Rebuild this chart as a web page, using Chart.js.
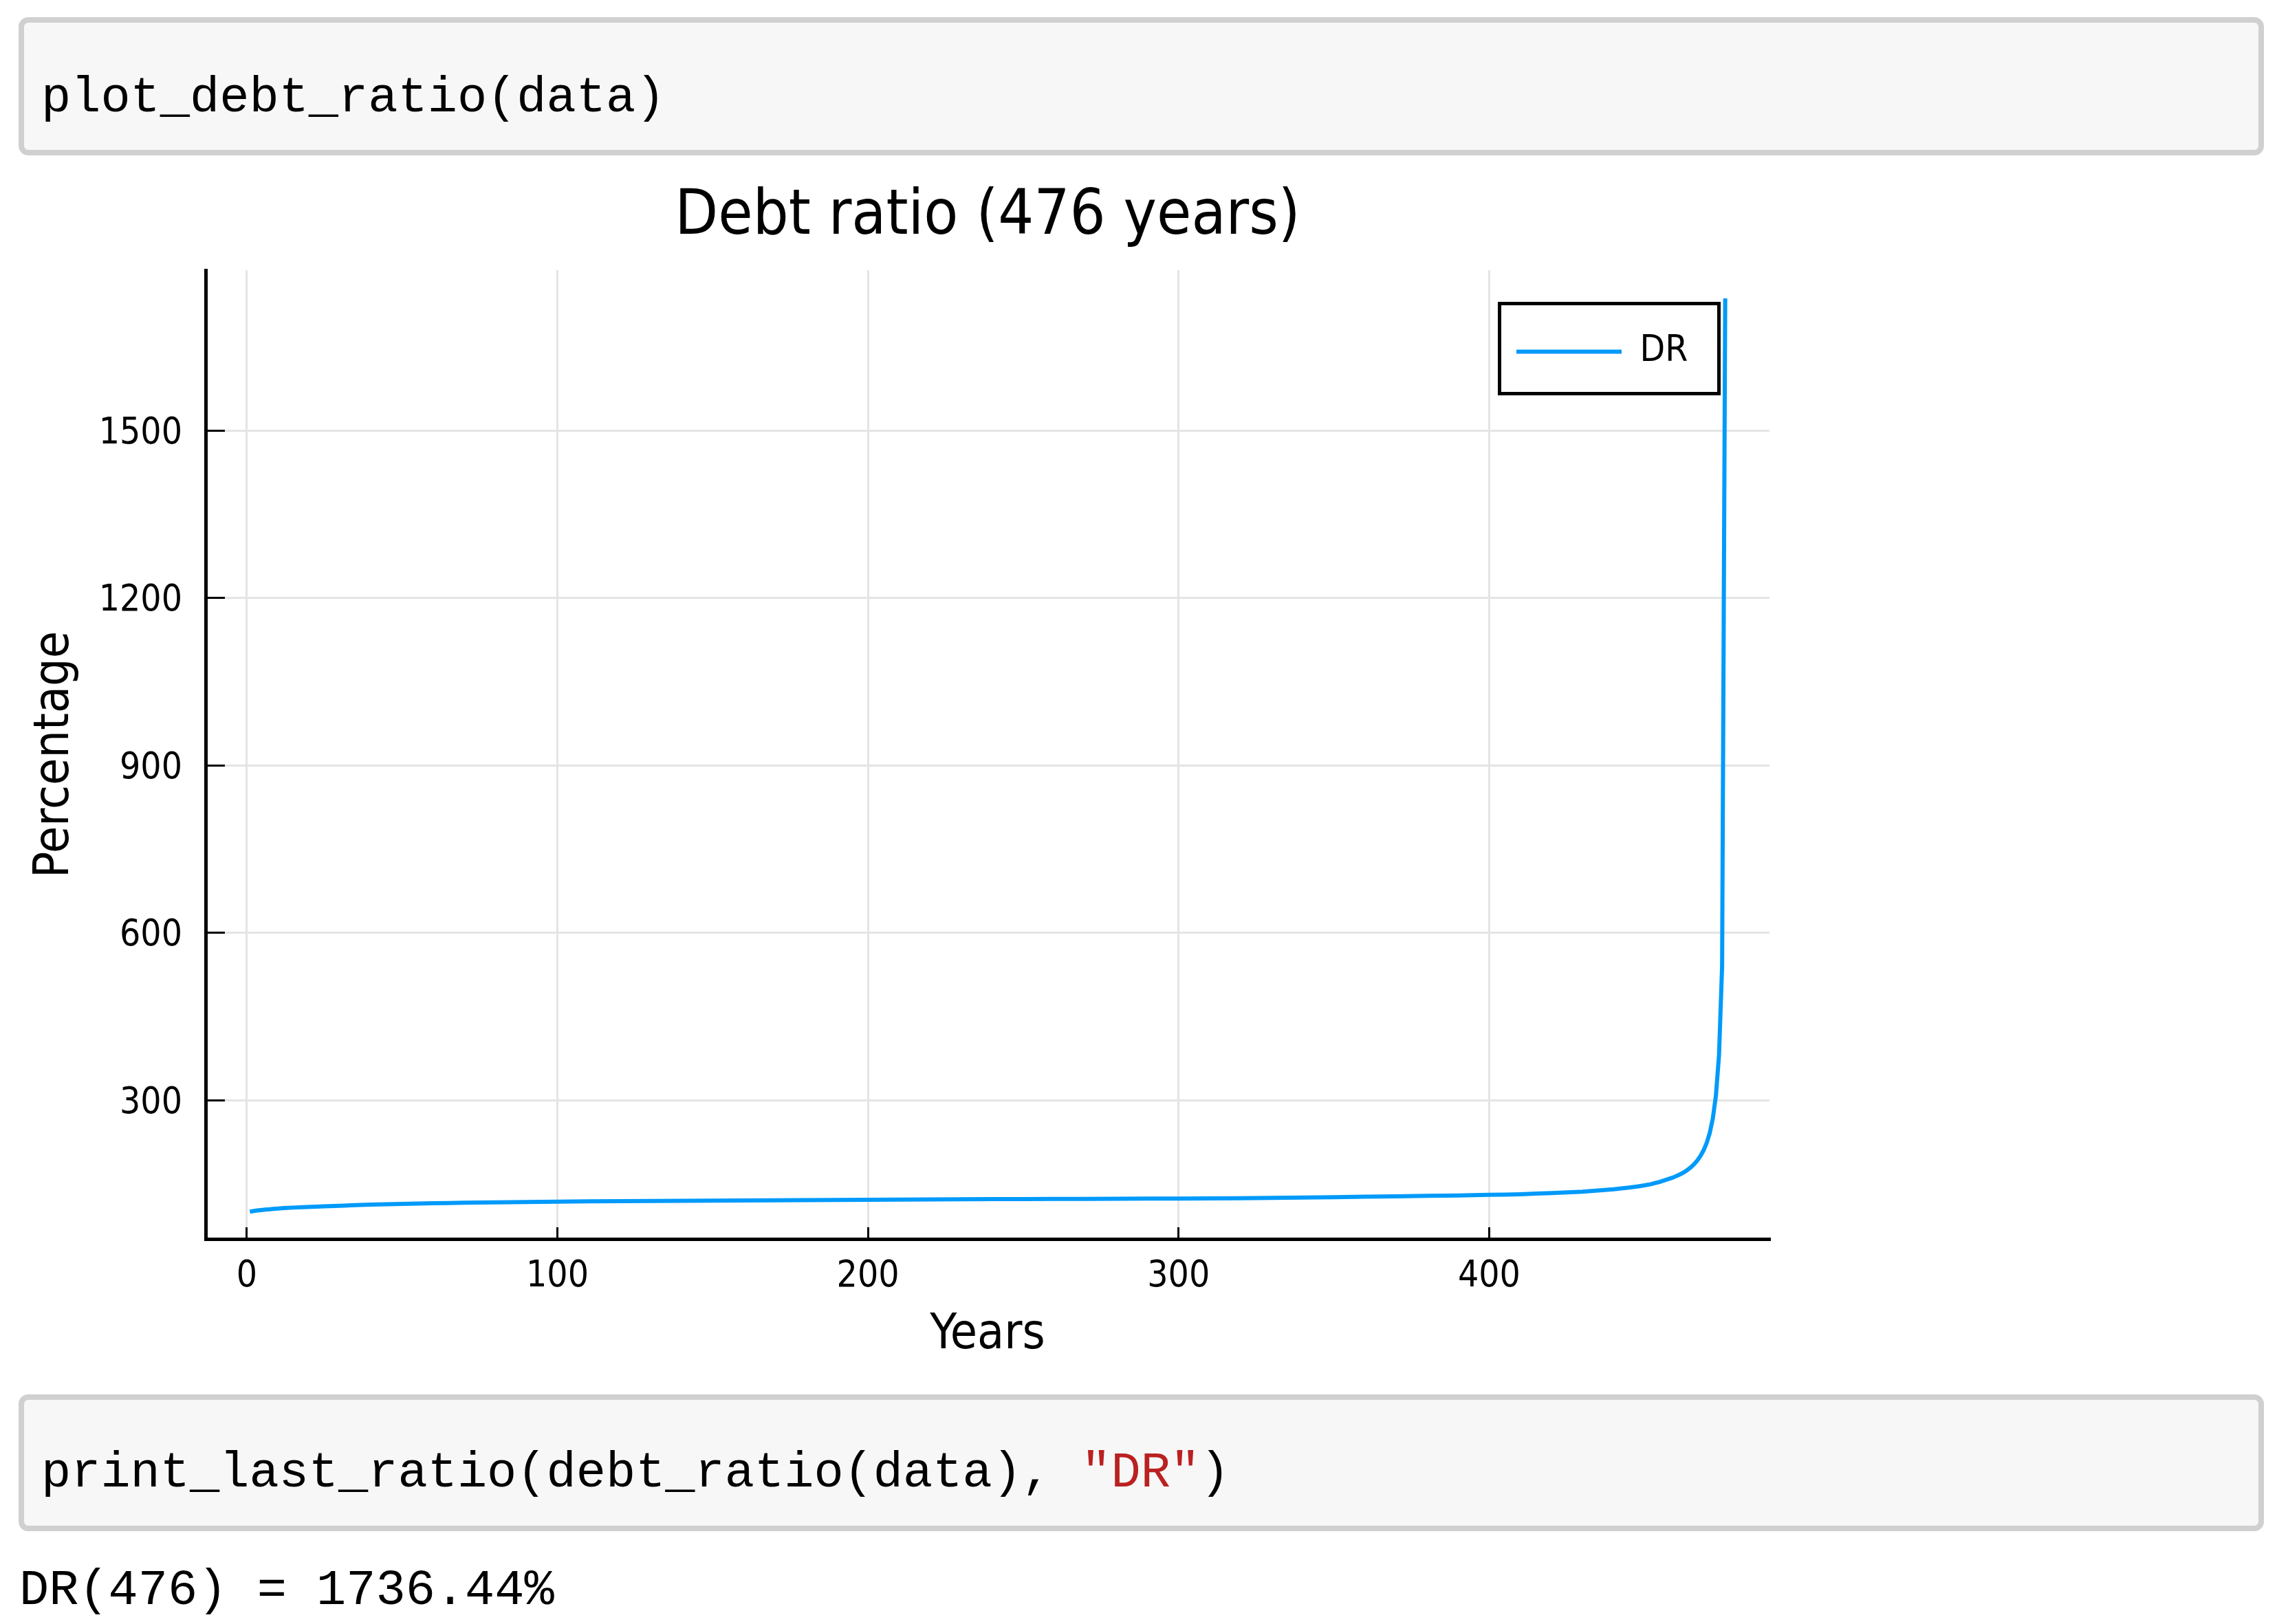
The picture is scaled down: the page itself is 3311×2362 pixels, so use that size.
<!DOCTYPE html>
<html>
<head>
<meta charset="utf-8">
<script src="https://cdn.jsdelivr.net/npm/chart.js@4.4.1/dist/chart.umd.min.js"></script>
<style>
  html, body { margin:0; padding:0; background:#ffffff; }
  body { width:3311px; height:2362px; position:relative; overflow:hidden; }
  .code { position:absolute; left:27px; width:3265px; box-sizing:border-box;
          border:8px solid #d0d0d0; border-radius:14px; background:#f7f7f7; }
  .mono { position:absolute; font-family:'Liberation Mono', 'DejaVu Sans Mono', monospace;
          font-size:72px; line-height:72px; white-space:pre; color:#000; }
  .str { color:#ba2121; }
  #chartBox { position:absolute; left:0; top:240px; width:2700px; height:1770px; }
</style>
</head>
<body>
<div class="code" style="top:25px;height:201px;"></div>
<div class="mono" style="left:60px;top:107px;">plot_debt_ratio(data)</div>

<div id="chartBox"><canvas id="c"></canvas></div>

<div class="code" style="top:2028px;height:199px;"></div>
<div class="mono" style="left:60px;top:2107px;">print_last_ratio(debt_ratio(data), <span class="str">"DR"</span>)</div>
<div class="mono" style="left:28px;top:2278px;">DR(476) = 1736.44%</div>

<script>
// ---- data ----
const years = [1,2,3,4,5,6,7,8,9,10,12,15,18,21,25,30,35,40,45,50,55,60,65,70,75,80,85,90,95,100,
  110,120,130,140,150,160,170,180,190,200,210,220,230,240,250,260,270,280,290,300,310,320,330,340,350,360,370,380,390,400,
  405,410,415,420,425,430,435,440,445,448,450,452,
  453,454,455,456,457,458,459,460,461,462,463,464,465,466,467,468,469,470,471,472,473,474,475,476];
const debtRatio = [100.5,101.4,102.2,102.9,103.5,104.1,104.6,105.1,105.6,106.0,106.8,107.7,108.4,109.1,110.0,
  111.0,112.1,113.0,113.7,114.4,115.0,115.5,116.0,116.4,116.8,117.1,117.4,117.7,118.0,118.3,
  118.8,119.2,119.5,119.8,120.1,120.4,120.7,121.0,121.3,121.6,121.9,122.2,122.5,122.8,123.0,123.2,123.4,123.6,123.8,124.0,
  124.3,124.6,125.0,125.7,126.4,127.1,127.9,128.7,129.5,130.5,
  131.0,131.7,132.7,133.7,134.9,136.2,138.2,140.5,143.5,145.8,147.5,149.5,
  151.0,152.5,154.0,155.8,157.6,159.4,161.2,163.5,166.0,168.8,172.0,175.8,180.3,185.5,192.0,200.0,210.0,223.0,
  241.0,267.0,308.0,380.0,540.0,1736.44];
const seriesLabel = 'DR';
const chartTitle = 'Debt ratio (476 years)';
const xAxisTitle = 'Years';
const yAxisTitle = 'Percentage';
const xTickValues = [0, 100, 200, 300, 400];
const yTickValues = [300, 600, 900, 1200, 1500];
const xRange = [-13.25, 490.25];
const yRange = [51.5, 1787];

// ---- chart ----
const FONT = "'DejaVu Sans Condensed', 'DejaVu Sans', sans-serif";
Chart.defaults.color = '#000';
Chart.defaults.font.family = FONT;

const points = years.map((y, i) => ({x: y, y: debtRatio[i]}));

const legendPlacer = {
  id: 'legendPlacer',
  beforeDraw(chart) {
    const lg = chart.legend;
    if (!lg) return;
    const left = 2185, top = 225;
    lg.left = left; lg.top = top; lg.width = 420; lg.height = 200;
    lg.right = left + 420; lg.bottom = top + 200;
  },
  afterDraw(chart) {
    const ctx = chart.ctx;
    ctx.save();
    ctx.strokeStyle = '#000';
    ctx.lineWidth = 5;
    ctx.strokeRect(2180.5, 201.5, 319, 131);
    ctx.restore();
  }
};

new Chart(document.getElementById('c'), {
  type: 'line',
  data: {
    datasets: [{
      label: seriesLabel,
      data: points,
      borderColor: '#009afa',
      backgroundColor: '#009afa',
      borderWidth: 6,
      pointRadius: 0,
      tension: 0,
      fill: false
    }]
  },
  options: {
    responsive: true,
    maintainAspectRatio: false,
    devicePixelRatio: 1,
    animation: false,
    events: [],
    layout: { padding: { left: 0, right: 127, top: 21.4, bottom: 0 } },
    plugins: {
      title: {
        display: true,
        text: chartTitle,
        fullSize: false,
        color: '#000',
        font: { family: FONT, size: 91, weight: 'normal', lineHeight: 1.2 },
        padding: { top: 0, bottom: 22.4 }
      },
      legend: {
        display: true,
        position: 'chartArea',
        align: 'start',
        labels: {
          usePointStyle: true,
          pointStyle: 'line',
          pointStyleWidth: 153,
          boxHeight: 53,
          padding: 20,
          color: '#000',
          font: { family: FONT, size: 53 }
        }
      },
      tooltip: { enabled: false }
    },
    scales: {
      x: {
        type: 'linear',
        position: 'bottom',
        min: xRange[0],
        max: xRange[1],
        afterFit: s => { s.height = 208; },
        afterBuildTicks: s => { s.ticks = xTickValues.map(v => ({value: v})); },
        ticks: { padding: 40, font: { family: FONT, size: 53 }, color: '#000',
                 maxRotation: 0, autoSkip: false, callback: v => String(v) },
        grid: { color: '#e4e4e4', lineWidth: 3, tickColor: '#000', tickWidth: 3, tickLength: -17, drawTicks: true },
        border: { display: true, color: '#000', width: 5 },
        title: { display: true, text: xAxisTitle, color: '#000',
                 font: { family: FONT, size: 71, lineHeight: 1.2 }, padding: { top: 0, bottom: 25 } }
      },
      y: {
        type: 'linear',
        position: 'left',
        min: yRange[0],
        max: yRange[1],
        afterFit: s => { s.width = 299; },
        afterBuildTicks: s => { s.ticks = yTickValues.map(v => ({value: v})); },
        ticks: { padding: 62, labelOffset: 5, font: { family: FONT, size: 53 }, color: '#000',
                 autoSkip: false, callback: v => String(v) },
        grid: { color: '#e4e4e4', lineWidth: 3, tickColor: '#000', tickWidth: 3, tickLength: -28, drawTicks: true },
        border: { display: true, color: '#000', width: 5 },
        title: { display: true, text: yAxisTitle, color: '#000',
                 font: { family: FONT, size: 71, lineHeight: 1.2 }, padding: { top: 38, bottom: 0 } }
      }
    }
  },
  plugins: [legendPlacer]
});
</script>
</body>
</html>
